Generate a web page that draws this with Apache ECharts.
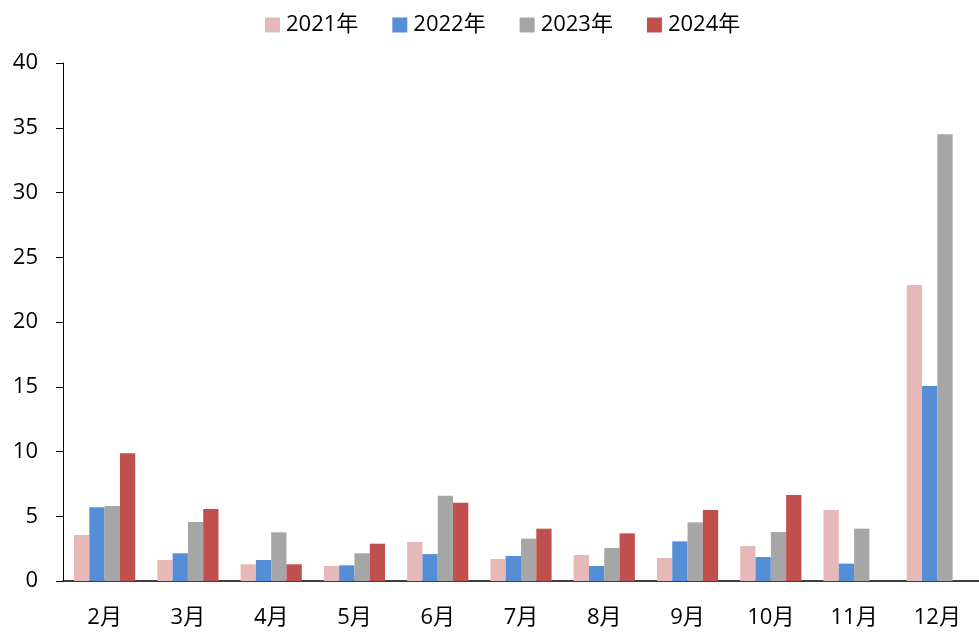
<!DOCTYPE html>
<html>
<head>
<meta charset="utf-8">
<script src="https://cdn.jsdelivr.net/npm/echarts@6/dist/echarts.min.js"></script>
<style>
html,body{margin:0;padding:0;background:#fff;}
#c{width:979px;height:634px;}
</style>
</head>
<body>
<div id="c"></div>
<script>
var categories = ['2月','3月','4月','5月','6月','7月','8月','9月','10月','11月','12月'];
var seriesNames = ['2021年','2022年','2023年','2024年'];
var s2021 = [3.55, 1.62, 1.29, 1.16, 3.01, 1.70, 2.01, 1.78, 2.70, 5.48, 22.86];
var s2022 = [5.69, 2.14, 1.62, 1.21, 2.08, 1.93, 1.16, 3.06, 1.85, 1.34, 15.06];
var s2023 = [5.79, 4.56, 3.76, 2.14, 6.59, 3.27, 2.55, 4.53, 3.78, 4.04, 34.49];
var s2024 = [9.86, 5.56, 1.29, 2.88, 6.05, 4.04, 3.68, 5.48, 6.64, null, null];
var yTicks = [0, 5, 10, 15, 20, 25, 30, 35, 40];

var colors = ['#E6B8B7', '#558ED5', '#A6A6A6', '#C0504D'];
var font = '"Open Sans", "Noto Sans CJK SC", sans-serif';
var allData = [s2021, s2022, s2023, s2024];

var chart = echarts.init(document.getElementById('c'));
chart.setOption({
  animation: false,
  color: colors,
  legend: {
    top: 9,
    left: 260,
    itemWidth: 15,
    itemHeight: 15,
    itemGap: 34,
    icon: 'rect',
    textStyle: { fontSize: 22, color: '#000', fontFamily: font, padding: [0, 0, 0, 1] },
    data: seriesNames
  },
  grid: { left: 63, right: 0, top: 63, bottom: 53, containLabel: false },
  xAxis: {
    type: 'category',
    data: categories,
    axisLine: { lineStyle: { color: '#000', width: 1.5 } },
    axisTick: { inside: true, length: 6, lineStyle: { color: '#000', width: 1.5 } },
    axisLabel: { fontSize: 22, color: '#000', fontFamily: font, margin: 26 }
  },
  yAxis: {
    type: 'value',
    min: yTicks[0],
    max: yTicks[yTicks.length - 1],
    interval: 5,
    splitLine: { show: false },
    axisLine: { show: true, lineStyle: { color: '#000', width: 1 } },
    axisTick: { show: true, length: 7, lineStyle: { color: '#000' } },
    axisLabel: { fontSize: 22, color: '#000', fontFamily: font, margin: 25 }
  },
  series: seriesNames.map(function (n, i) {
    return {
      name: n,
      type: 'bar',
      data: allData[i],
      barWidth: 15.3,
      barGap: '0%',
      itemStyle: { color: colors[i] }
    };
  })
});
</script>
</body>
</html>
